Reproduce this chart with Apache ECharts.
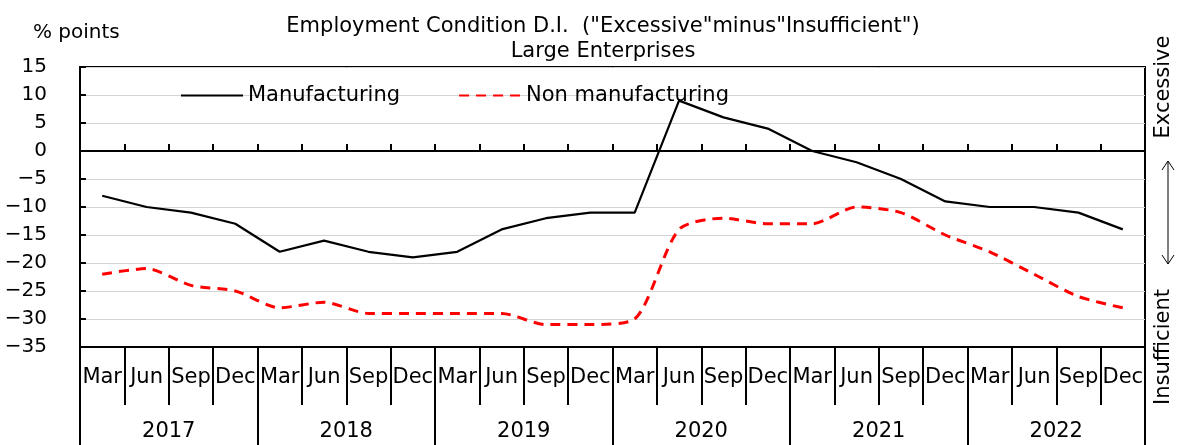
<!DOCTYPE html>
<html>
<head>
<meta charset="utf-8">
<script src="https://cdn.jsdelivr.net/npm/echarts@6/dist/echarts.min.js"></script>
<style>
html, body { margin: 0; padding: 0; background: #fff; }
#chart { width: 1182px; height: 445px; }
</style>
</head>
<body>
<div id="chart"></div>
<script>
// data
var years = ['2017', '2018', '2019', '2020', '2021', '2022'];
var months = ['Mar', 'Jun', 'Sep', 'Dec'];
var quarters = [];
years.forEach(function(y) {
	months.forEach(function(m) { quarters.push(m); });
});
var manufacturing = [-8, -10, -11, -13, -18, -16, -18, -19, -18, -14, -12, -11,
	-11, 9, 6, 4, 0, -2, -5, -9, -10, -10, -11, -14];
var nonManufacturing = [-22, -21, -24, -25, -28, -27, -29, -29, -29, -29, -31, -31,
	-30, -14, -12, -13, -13, -10, -11, -15, -18, -22, -26, -28];

var FONT = 'DejaVu Sans';
var chart = echarts.init(document.getElementById('chart'));
var option = {
	backgroundColor: '#fff',
	animation: false,
	textStyle: { fontFamily: FONT, color: '#000' },
	title: {
		text: 'Employment Condition D.I.  ("Excessive"minus"Insufficient")\nLarge Enterprises',
		left: 598,
		textAlign: 'center',
		top: 9,
		textStyle: { fontFamily: FONT, fontSize: 21, fontWeight: 'normal', color: '#000', lineHeight: 25 }
	},
	legend: {
		left: 175,
		top: 80,
		itemWidth: 62,
		itemHeight: 14,
		itemGap: 58,
		itemStyle: { color: 'transparent', borderWidth: 0, opacity: 0 },
		textStyle: { fontFamily: FONT, fontSize: 21, color: '#000' },
		data: ['Manufacturing', 'Non manufacturing']
	},
	grid: {
		left: 80,
		right: 37,
		top: 67,
		bottom: 98,
		show: true,
		borderColor: '#000',
		borderWidth: 2,
		containLabel: false
	},
	xAxis: [{
		type: 'category',
		data: quarters,
		position: 'bottom',
		boundaryGap: true,
		axisLine: { show: true, onZero: false, lineStyle: { color: '#000', width: 2 } },
		axisTick: { show: true, alignWithLabel: false, length: 58, interval: 0, lineStyle: { color: '#000', width: 2 } },
		axisLabel: { show: true, interval: 0, margin: 20, fontFamily: FONT, fontSize: 21, color: '#000' },
		splitLine: { show: false }
	}, {
		type: 'category',
		data: quarters,
		position: 'bottom',
		boundaryGap: true,
		axisLine: { show: true, onZero: true, lineStyle: { color: '#000', width: 2 } },
		axisTick: { show: true, inside: true, length: 7, interval: 0, lineStyle: { color: '#000', width: 2 } },
		axisLabel: { show: false },
		splitLine: { show: false }
	}, {
		type: 'category',
		data: years,
		position: 'bottom',
		boundaryGap: true,
		axisLine: { show: false, onZero: false },
		axisTick: { show: true, length: 98, interval: 0, lineStyle: { color: '#000', width: 2 } },
		axisLabel: { show: true, interval: 0, margin: 74, fontFamily: FONT, fontSize: 21, color: '#000' },
		splitLine: { show: false }
	}],
	yAxis: {
		type: 'value',
		min: -35,
		max: 15,
		interval: 5,
		name: '% points',
		nameLocation: 'end',
		nameGap: 24,
		nameTextStyle: { fontFamily: FONT, fontSize: 20, color: '#000', align: 'left', padding: [0, 0, 0, -47] },
		axisLine: { show: true, lineStyle: { color: '#000', width: 2 } },
		axisTick: { show: true, inside: true, length: 6, lineStyle: { color: '#000', width: 2 } },
		axisLabel: {
			margin: 33,
			fontFamily: FONT,
			fontSize: 20,
			color: '#000',
			formatter: function(v) { return String(v).replace('-', '\u2212'); }
		},
		splitLine: { show: true, lineStyle: { color: '#d4d4d4', width: 1 } }
	},
	series: [{
		name: 'Manufacturing',
		type: 'line',
		xAxisIndex: 0,
		data: manufacturing,
		symbol: 'none',
		lineStyle: { color: '#000', width: 2.2 },
		itemStyle: { color: '#000' }
	}, {
		name: 'Non manufacturing',
		type: 'line',
		xAxisIndex: 0,
		data: nonManufacturing,
		symbol: 'none',
		smooth: 0.25,
		lineStyle: { color: '#ff0000', width: 3, type: [10, 7] },
		itemStyle: { color: '#ff0000' }
	}],
	graphic: [{
		type: 'text',
		x: 1164,
		y: 87,
		rotation: Math.PI / 2,
		style: { text: 'Excessive', fontFamily: FONT, fontSize: 21, fill: '#000', align: 'center', verticalAlign: 'middle' }
	}, {
		type: 'text',
		x: 1164,
		y: 347,
		rotation: Math.PI / 2,
		style: { text: 'Insufficient', fontFamily: FONT, fontSize: 21, fill: '#000', align: 'center', verticalAlign: 'middle' }
	}, {
		type: 'line',
		shape: { x1: 1168, y1: 161, x2: 1168, y2: 264 },
		style: { stroke: '#000', lineWidth: 1 }
	}, {
		type: 'polyline',
		shape: { points: [[1162, 170], [1168, 161], [1174, 170]] },
		style: { stroke: '#000', lineWidth: 1, fill: null }
	}, {
		type: 'polyline',
		shape: { points: [[1162, 255], [1168, 264], [1174, 255]] },
		style: { stroke: '#000', lineWidth: 1, fill: null }
	}]
};
chart.setOption(option);
</script>
</body>
</html>
